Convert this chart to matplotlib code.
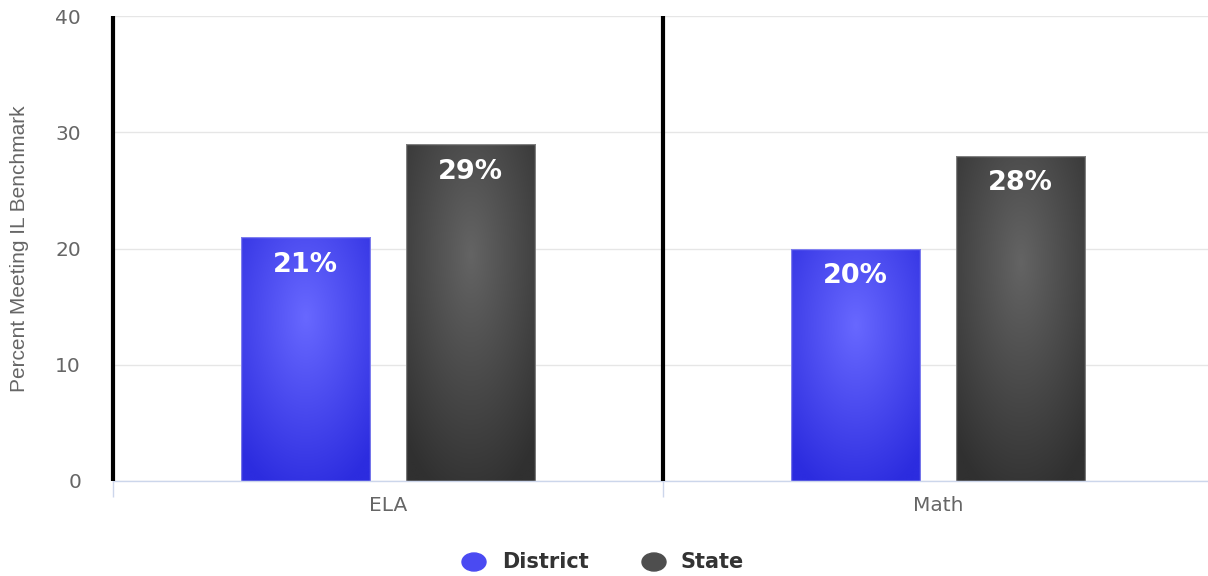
import numpy as np
import matplotlib

matplotlib.use("Agg")
import matplotlib.pyplot as plt
from matplotlib.patches import Ellipse
from matplotlib.colors import to_rgb

# Share of students meeting the IL benchmark, by subject.
subjects = ["ELA", "Math"]
series_names = ["District", "State"]
district = [21, 20]
state = [29, 28]

# Radial gradient stops per series: (centre colour, edge colour).
GRADIENTS = {
    "District": ("#6868ff", "#2c2cdf"),
    "State": ("#646464", "#303030"),
}
LEGEND_COLORS = {"District": "#4a4af2", "State": "#4e4e4e"}

W, H = 1208, 576
fig = plt.figure(figsize=(W / 100, H / 100), dpi=100)
ax = fig.add_axes([113 / W, 1 - 481 / H, (W - 113) / W, (481 - 16) / H])

bar_w = 0.235
offset = 0.15
x = np.arange(len(subjects))


def radial_fill(ax, rect, stops, cy=0.33, radius=0.75):
    """Paint a radial gradient inside one bar rectangle."""
    c0 = np.array(to_rgb(stops[0]))
    c1 = np.array(to_rgb(stops[1]))
    u, v = np.meshgrid(np.linspace(0, 1, 120), np.linspace(0, 1, 240))
    d = np.sqrt((u - 0.5) ** 2 + (v - cy) ** 2)
    t = np.clip(d / radius, 0, 1)[..., None]
    img = c0 * (1 - t) + c1 * t
    x0 = rect.get_x()
    x1 = x0 + rect.get_width()
    y1 = rect.get_height()
    im = ax.imshow(img, extent=(x0, x1, 0, y1), origin="upper",
                   aspect="auto", interpolation="bilinear", zorder=2)
    im.set_clip_path(rect)


for name, vals, sign in [("District", district, -1), ("State", state, 1)]:
    bars = ax.bar(x + sign * offset, vals, width=bar_w, color="none",
                  edgecolor=(1, 1, 1, 0.35), linewidth=1, zorder=3)
    for rect, val in zip(bars, vals):
        radial_fill(ax, rect, GRADIENTS[name])
        ax.annotate(f"{val}%", (rect.get_x() + rect.get_width() / 2, val),
                    xytext=(0, -20), textcoords="offset points",
                    ha="center", va="center", color="white",
                    fontsize=19.5, fontweight="bold", zorder=4)

ax.set_xlim(-0.5, -0.5 + (W - 113) / 550)
ax.set_ylim(0, 40)
ax.set_yticks([0, 10, 20, 30, 40])
ax.set_xticks(x)
ax.set_xticklabels(subjects)
ax.set_xticks([-0.5, 0.5], minor=True)

ax.grid(axis="y", color="#e6e6e6", linewidth=1)
ax.set_axisbelow(True)
for side in ["top", "right", "left"]:
    ax.spines[side].set_visible(False)
ax.spines["bottom"].set_color("#ccd6eb")
ax.spines["bottom"].set_linewidth(1)

ax.tick_params(axis="y", length=0, pad=23, labelsize=14.5, labelcolor="#666666")
ax.tick_params(axis="x", which="major", length=0, pad=11, labelsize=14.5,
               labelcolor="#666666")
ax.tick_params(axis="x", which="minor", length=11.5, width=1, color="#ccd6eb")

# heavy dividers between subject groups
for xd in [-0.5, 0.5]:
    ax.axvline(xd, color="black", linewidth=3, zorder=5, clip_on=False,
               solid_capstyle="butt")

fig.text(20 / W, 1 - 248.5 / H, "Percent Meeting IL Benchmark",
         rotation=90, ha="center", va="center", fontsize=15,
         family=["Liberation Sans Narrow", "Liberation Sans", "DejaVu Sans"],
         color="#666666")

# legend along the bottom
for name, cx, tx in [("District", 474, 502), ("State", 654, 680)]:
    fig.patches.append(Ellipse((cx / W, 1 - 562 / H), 24 / W, 18 / H,
                               transform=fig.transFigure,
                               color=LEGEND_COLORS[name]))
    fig.text(tx / W, 1 - 562 / H, name, ha="left", va="center",
             fontsize=15, fontweight="bold", color="#333333")

fig.savefig("out.png", dpi=100)
